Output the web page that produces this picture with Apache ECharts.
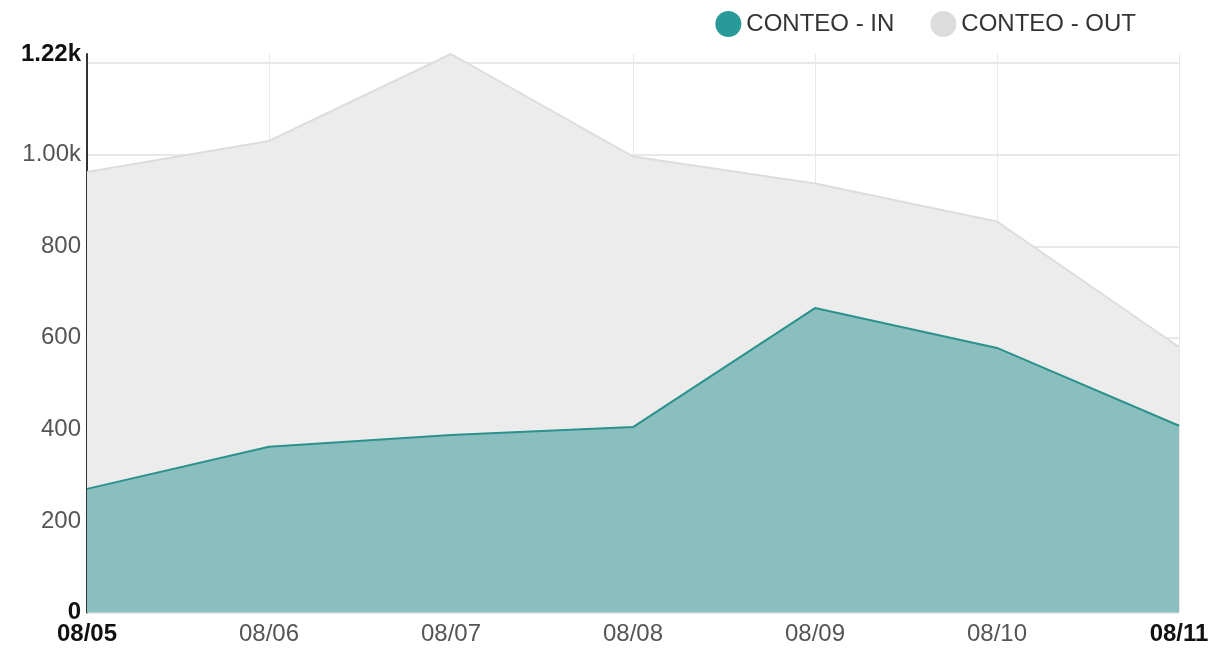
<!DOCTYPE html>
<html>
<head>
<meta charset="utf-8">
<script src="https://cdn.jsdelivr.net/npm/echarts@6/dist/echarts.min.js"></script>
<style>
html,body{margin:0;padding:0;background:#fff;}
#chart{width:1231px;height:659px;}
</style>
</head>
<body>
<div id="chart"></div>
<script>
const categories = ['08/05','08/06','08/07','08/08','08/09','08/10','08/11'];
const seriesIn = [270, 362, 388, 405, 665, 578, 408];
const seriesOut = [962, 1030, 1220, 996, 937, 854, 580];
const yGridValues = [0, 200, 400, 600, 800, 1000, 1200];
const yLabelValues = [0, 200, 400, 600, 800, 1000, 1220];
const yMax = 1220;

function fmtY(v) {
  if (v === 0) return '{b|0}';
  if (v === yMax) return '{b|' + (v / 1000).toFixed(2) + 'k}';
  if (v >= 1000) return (v / 1000).toFixed(2) + 'k';
  return String(v);
}

const chart = echarts.init(document.getElementById('chart'));
chart.setOption({
  animation: false,
  backgroundColor: '#ffffff',
  textStyle: { fontFamily: 'Liberation Sans, Arial, sans-serif' },
  legend: {
    right: 90,
    top: 6,
    icon: 'circle',
    itemWidth: 26,
    itemHeight: 26,
    itemGap: 36,
    textStyle: { fontSize: 24, color: '#333', fontFamily: 'Liberation Sans, Arial, sans-serif' },
    data: [
      { name: 'CONTEO - IN', itemStyle: { color: '#2a9a98' } },
      { name: 'CONTEO - OUT', itemStyle: { color: '#dcdcdc' } }
    ]
  },
  grid: { left: 87, right: 52, top: 54, bottom: 46.5, containLabel: false },
  xAxis: {
    type: 'category',
    data: categories,
    boundaryGap: false,
    axisLine: { show: false },
    axisTick: { show: false },
    splitLine: { show: true, lineStyle: { color: '#e8e8e8', width: 1 } },
    axisLabel: {
      fontSize: 24,
      color: '#555',
      margin: 10,
      formatter: function (v, i) {
        if (i === 0 || i === categories.length - 1) return '{b|' + v + '}';
        return v;
      },
      rich: { b: { fontSize: 24, fontWeight: 'bold', color: '#111' } }
    }
  },
  yAxis: {
    type: 'value',
    min: 0,
    max: yMax,
    interval: 200,
    axisLine: { show: true, lineStyle: { color: '#333', width: 2 } },
    axisTick: { show: false, customValues: yGridValues },
    splitLine: { show: true, lineStyle: { color: '#e8e8e8', width: 2 } },
    axisLabel: {
      customValues: yLabelValues,
      fontSize: 24,
      color: '#555',
      margin: 6,
      formatter: fmtY,
      rich: { b: { fontSize: 24, fontWeight: 'bold', color: '#111' } }
    }
  },
  series: [
    {
      name: 'CONTEO - OUT',
      type: 'line',
      data: seriesOut,
      showSymbol: false,
      symbol: 'none',
      clip: false,
      z: 2,
      lineStyle: { color: '#dddddd', width: 2 },
      itemStyle: { color: '#dcdcdc' },
      areaStyle: { color: '#ececec', opacity: 1 }
    },
    {
      name: 'CONTEO - IN',
      type: 'line',
      data: seriesIn,
      showSymbol: false,
      symbol: 'none',
      clip: false,
      z: 3,
      lineStyle: { color: '#2a918d', width: 2 },
      itemStyle: { color: '#2a9a98' },
      areaStyle: { color: '#8bbfbf', opacity: 1 }
    }
  ]
});
</script>
</body>
</html>
